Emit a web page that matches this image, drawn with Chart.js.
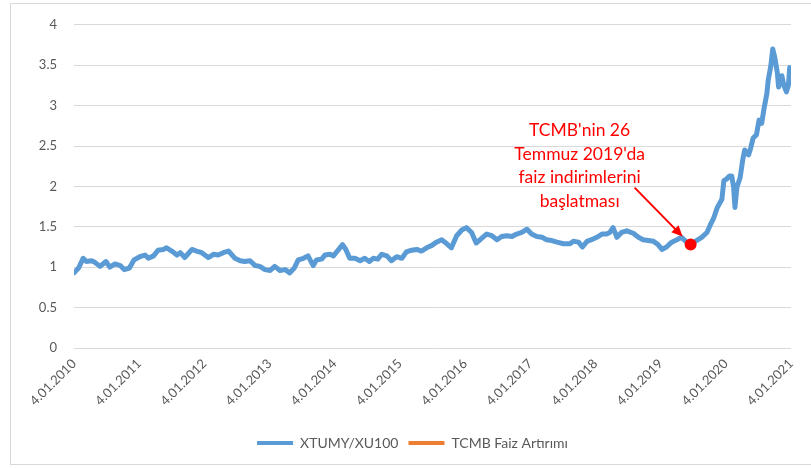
<!DOCTYPE html>
<html>
<head>
<meta charset="utf-8">
<script src="https://cdn.jsdelivr.net/npm/chart.js@4.4.1/dist/chart.umd.min.js"></script>
<style>
  html, body { margin: 0; padding: 0; background: #ffffff; }
  #wrap { width: 811px; height: 468px; position: relative; }
</style>
</head>
<body>
<div id="wrap"><canvas id="grafik"></canvas></div>
<script>
// XTUMY/XU100 oranı - değerler grafikten okunmuştur
// tarih: 4.01.2010'dan itibaren geçen yıl
const tarihler = [
  0.00, 0.07, 0.14, 0.19, 0.27, 0.32, 0.40, 0.49, 0.55, 0.63, 0.71, 0.77, 0.85, 0.92,
  1.01, 1.09, 1.14, 1.22, 1.29, 1.37, 1.42, 1.50, 1.58, 1.63, 1.70, 1.81, 1.88, 1.96,
  2.06, 2.14, 2.21, 2.29, 2.37, 2.47, 2.55, 2.62, 2.70, 2.78, 2.85, 2.93,
  3.01, 3.08, 3.16, 3.24, 3.31, 3.38, 3.44, 3.52, 3.59, 3.67, 3.72, 3.80, 3.85, 3.93, 3.98,
  4.05, 4.12, 4.17, 4.23, 4.31, 4.39, 4.46, 4.53, 4.59, 4.66, 4.72, 4.80, 4.87, 4.95,
  5.03, 5.10, 5.18, 5.26, 5.33, 5.41, 5.49, 5.56, 5.64, 5.69, 5.79, 5.87, 5.95,
  6.02, 6.10, 6.17, 6.23, 6.33, 6.41, 6.49, 6.56, 6.64, 6.72, 6.79, 6.87, 6.95,
  7.02, 7.10, 7.18, 7.25, 7.33, 7.41, 7.51, 7.61, 7.66, 7.74, 7.80, 7.87, 7.94,
  8.02, 8.10, 8.17, 8.22, 8.27, 8.33, 8.40, 8.48, 8.58, 8.66, 8.73, 8.81, 8.89, 8.96,
  9.02, 9.09, 9.17, 9.25, 9.32, 9.40, 9.46, 9.55, 9.63, 9.71, 9.76, 9.81, 9.87, 9.94, 9.97,
  10.01, 10.06, 10.09, 10.12, 10.14, 10.17, 10.22, 10.26, 10.29, 10.35, 10.38, 10.42, 10.47,
  10.51, 10.55, 10.59, 10.63, 10.65, 10.69, 10.72, 10.75, 10.79, 10.81, 10.86, 10.89, 10.93, 10.96, 10.98
];
const oranlar = [
  0.93, 0.99, 1.11, 1.07, 1.08, 1.06, 1.01, 1.07, 1.00, 1.04, 1.02, 0.97, 0.99, 1.09,
  1.13, 1.15, 1.11, 1.14, 1.21, 1.22, 1.24, 1.20, 1.15, 1.18, 1.12, 1.22, 1.20, 1.18,
  1.12, 1.16, 1.15, 1.18, 1.20, 1.11, 1.08, 1.07, 1.08, 1.02, 1.01, 0.97,
  0.96, 1.01, 0.96, 0.97, 0.93, 0.99, 1.09, 1.11, 1.14, 1.02, 1.09, 1.10, 1.15, 1.16, 1.14,
  1.21, 1.28, 1.22, 1.11, 1.11, 1.08, 1.11, 1.07, 1.11, 1.10, 1.16, 1.14, 1.08, 1.13,
  1.11, 1.19, 1.21, 1.22, 1.20, 1.24, 1.27, 1.31, 1.34, 1.31, 1.24, 1.39, 1.46,
  1.49, 1.43, 1.30, 1.34, 1.41, 1.39, 1.34, 1.38, 1.39, 1.38, 1.41, 1.43, 1.47,
  1.41, 1.38, 1.37, 1.34, 1.33, 1.31, 1.29, 1.29, 1.32, 1.31, 1.25, 1.32, 1.34,
  1.37, 1.41, 1.41, 1.43, 1.49, 1.37, 1.43, 1.45, 1.42, 1.37, 1.34, 1.33, 1.32, 1.28,
  1.22, 1.25, 1.31, 1.34, 1.37, 1.31, 1.28, 1.33, 1.37, 1.43, 1.52, 1.60, 1.74, 1.84, 2.07,
  2.09, 2.13, 2.13, 1.99, 1.74, 1.99, 2.11, 2.33, 2.45, 2.39, 2.47, 2.60, 2.64,
  2.82, 2.78, 2.98, 3.15, 3.31, 3.49, 3.70, 3.60, 3.41, 3.23, 3.37, 3.25, 3.17, 3.25, 3.47
];

// TCMB faiz indirimi başlangıcı (26 Temmuz 2019)
const faizTarih = [9.46];
const faizDeger = [1.28];

// eksen etiketleri
const yilTikleri = [0, 1, 2, 3, 4, 5, 6, 7, 8, 9, 10, 11];
const yilEtiketleri = ['4.01.2010', '4.01.2011', '4.01.2012', '4.01.2013', '4.01.2014', '4.01.2015',
  '4.01.2016', '4.01.2017', '4.01.2018', '4.01.2019', '4.01.2020', '4.01.2021'];
const yTikleri = [0, 0.5, 1, 1.5, 2, 2.5, 3, 3.5, 4];

const notSatirlari = ["TCMB'nin 26", "Temmuz 2019'da", "faiz indirimlerini", "başlatması"];

const yaziTipi = 'Lato, "Open Sans", sans-serif';
const griYazi = '#595959';

// Çerçeve (Excel grafik alanı kenarı)
const cerceve = {
  id: 'cerceve',
  beforeDraw(chart) {
    const ctx = chart.ctx;
    ctx.save();
    ctx.strokeStyle = '#d9d9d9';
    ctx.lineWidth = 1;
    ctx.strokeRect(10.5, 3.5, 830, 461);
    ctx.restore();
  }
};

// Not ve ok: kırmızı noktaya göre konumlanır
const notOk = {
  id: 'notOk',
  afterDatasetsDraw(chart) {
    const ctx = chart.ctx;
    const px = chart.scales.x.getPixelForValue(faizTarih[0]);
    const py = chart.scales.y.getPixelForValue(faizDeger[0]);
    ctx.save();
    ctx.strokeStyle = '#ff0000';
    ctx.fillStyle = '#ff0000';
    ctx.lineWidth = 2;
    const ux = px - 8, uy = py - 8;
    const bx = px - 56, by = py - 57;
    const a = Math.atan2(uy - by, ux - bx);
    ctx.beginPath();
    ctx.moveTo(bx, by);
    ctx.lineTo(ux - 8 * Math.cos(a), uy - 8 * Math.sin(a));
    ctx.stroke();
    ctx.beginPath();
    ctx.moveTo(ux, uy);
    ctx.lineTo(ux - 11 * Math.cos(a) + 5 * Math.sin(a), uy - 11 * Math.sin(a) - 5 * Math.cos(a));
    ctx.lineTo(ux - 11 * Math.cos(a) - 5 * Math.sin(a), uy - 11 * Math.sin(a) + 5 * Math.cos(a));
    ctx.closePath();
    ctx.fill();

    ctx.font = '17.5px ' + yaziTipi;
    ctx.textAlign = 'center';
    ctx.textBaseline = 'middle';
    notSatirlari.forEach(function(s, i) {
      ctx.fillText(s, px - 111, py - 114 + i * 23.5);
    });
    ctx.restore();
  }
};

new Chart(document.getElementById('grafik'), {
  type: 'line',
  data: {
    datasets: [{
      label: 'XTUMY/XU100',
      data: tarihler.map((t, i) => ({ x: t, y: oranlar[i] })),
      borderColor: '#5b9bd5',
      backgroundColor: '#5b9bd5',
      borderWidth: 5,
      pointRadius: 0,
      tension: 0,
      order: 1,
      borderJoinStyle: 'round',
      borderCapStyle: 'round'
    }, {
      label: 'TCMB Faiz Artırımı',
      data: faizTarih.map((t, i) => ({ x: t, y: faizDeger[i] })),
      borderColor: '#ed7d31',
      backgroundColor: '#ed7d31',
      showLine: false,
      order: 0,
      pointRadius: 6,
      pointBackgroundColor: '#ff0000',
      pointBorderColor: '#ff0000',
      pointBorderWidth: 0
    }]
  },
  options: {
    responsive: true,
    maintainAspectRatio: false,
    animation: false,
    layout: { padding: { top: 22, right: 20, bottom: 8, left: 34 } },
    plugins: {
      tooltip: { enabled: false },
      legend: {
        position: 'bottom',
        labels: {
          color: griYazi,
          font: { family: yaziTipi, size: 14 },
          usePointStyle: true,
          pointStyleWidth: 36,
          padding: 10,
          generateLabels: function(chart) {
            return chart.data.datasets.map(function(ds, i) {
              return {
                text: ds.label,
                datasetIndex: i,
                pointStyle: 'line',
                strokeStyle: ds.borderColor,
                fillStyle: ds.borderColor,
                lineWidth: 4,
                hidden: false,
                fontColor: griYazi
              };
            });
          }
        }
      }
    },
    scales: {
      x: {
        type: 'linear',
        min: yilTikleri[0],
        max: yilTikleri[yilTikleri.length - 1],
        afterBuildTicks: function(scale) {
          scale.ticks = yilTikleri.map(v => ({ value: v }));
        },
        afterFit: function(scale) { scale.height = 78; },
        grid: { display: false, drawTicks: false },
        border: { display: false },
        ticks: {
          autoSkip: false,
          minRotation: 45,
          maxRotation: 45,
          padding: 8,
          color: griYazi,
          font: { family: yaziTipi, size: 13 },
          callback: function(v) { return yilEtiketleri[yilTikleri.indexOf(v)]; }
        }
      },
      y: {
        min: 0,
        max: 4,
        afterBuildTicks: function(scale) {
          scale.ticks = yTikleri.map(v => ({ value: v }));
        },
        afterFit: function(scale) { scale.width = 40; },
        grid: { color: '#d9d9d9', lineWidth: 1, drawTicks: false },
        border: { display: false },
        ticks: {
          padding: 17,
          color: griYazi,
          font: { family: yaziTipi, size: 13 },
          callback: function(v) { return String(v); }
        }
      }
    }
  },
  plugins: [cerceve, notOk]
});
</script>
</body>
</html>
